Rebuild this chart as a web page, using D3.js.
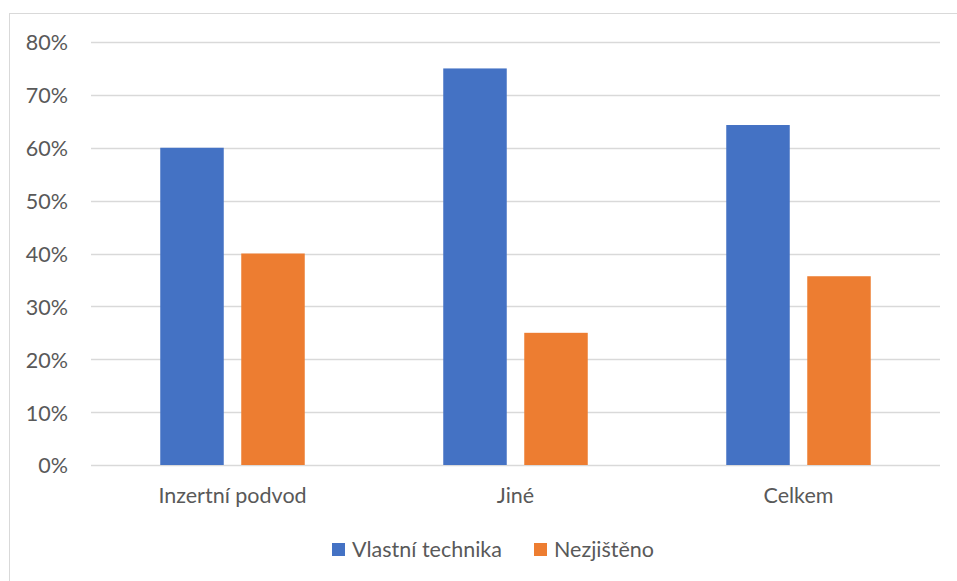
<!DOCTYPE html>
<html>
<head>
<meta charset="utf-8">
<script src="https://cdn.jsdelivr.net/npm/d3@7"></script>
<style>
  html, body { margin: 0; padding: 0; background: #fff; }
  svg { display: block; font-family: Lato, "Open Sans", "DejaVu Sans", sans-serif; }
</style>
</head>
<body>
<svg id="chart" width="957" height="581"></svg>
<script>
// Podíl způsobu zjištění podle typu případu
const categories = ["Inzertní podvod", "Jiné", "Celkem"];
const seriesNames = ["Vlastní technika", "Nezjištěno"];
const vlastniTechnika = [0.60, 0.75, 0.643];
const nezjisteno = [0.40, 0.25, 0.357];
const yTicks = [0, 0.1, 0.2, 0.3, 0.4, 0.5, 0.6, 0.7, 0.8];
const colors = ["#4472C4", "#ED7D31"];

const svg = d3.select("#chart");
const textColor = "#595959";
const fontSize = "21.5px";

// Chart frame
svg.append("rect")
  .attr("x", 9.5).attr("y", 13.5)
  .attr("width", 960).attr("height", 580)
  .attr("fill", "#fff").attr("stroke", "#d9d9d9").attr("stroke-width", 1);

const plot = { left: 91, right: 940, top: 42, bottom: 465 };

const x0 = d3.scaleBand().domain(categories).range([plot.left, plot.right]).paddingInner(0).paddingOuter(0);
const y = d3.scaleLinear().domain([0, 0.8]).range([plot.bottom, plot.top]);

// Gridlines
svg.append("g").selectAll("line").data(yTicks).join("line")
  .attr("x1", plot.left).attr("x2", plot.right)
  .attr("y1", d => Math.round(y(d)) + 0.5).attr("y2", d => Math.round(y(d)) + 0.5)
  .attr("stroke", "#d9d9d9").attr("stroke-width", 1.3);

// Y axis labels
const yAxis = d3.axisLeft(y).tickValues(yTicks).tickFormat(d3.format(".0%")).tickSize(0).tickPadding(0);
const gy = svg.append("g").attr("transform", `translate(${68},1)`).call(yAxis);
gy.select(".domain").remove();
gy.selectAll("text").attr("fill", textColor).style("font-size", fontSize)
  .style("font-family", "Lato, 'Open Sans', sans-serif");

// Bars
const barW = 63.5, gap = 17.5;
const series = [vlastniTechnika, nezjisteno];
series.forEach((vals, si) => {
  svg.append("g").selectAll("rect").data(categories).join("rect")
    .attr("x", c => x0(c) + x0.bandwidth() / 2 - (barW + gap / 2) + si * (barW + gap))
    .attr("y", (c, i) => y(vals[i]))
    .attr("width", barW)
    .attr("height", (c, i) => y(0) - y(vals[i]))
    .attr("fill", colors[si]);
});

// X axis labels
const xAxis = d3.axisBottom(x0).tickSize(0).tickPadding(0);
const gx = svg.append("g").attr("transform", `translate(0,${488})`).call(xAxis);
gx.select(".domain").remove();
gx.selectAll("text").attr("fill", textColor).style("font-size", fontSize)
  .style("font-family", "Lato, 'Open Sans', sans-serif");

// Legend
const legendItems = [
  { name: seriesNames[0], color: colors[0], x: 332 },
  { name: seriesNames[1], color: colors[1], x: 534 }
];
const lg = svg.append("g");
legendItems.forEach(it => {
  lg.append("rect").attr("x", it.x).attr("y", 543).attr("width", 13).attr("height", 13).attr("fill", it.color);
  lg.append("text").attr("x", it.x + 20).attr("y", 556.5)
    .attr("fill", textColor).style("font-size", fontSize).text(it.name);
});
</script>
</body>
</html>
